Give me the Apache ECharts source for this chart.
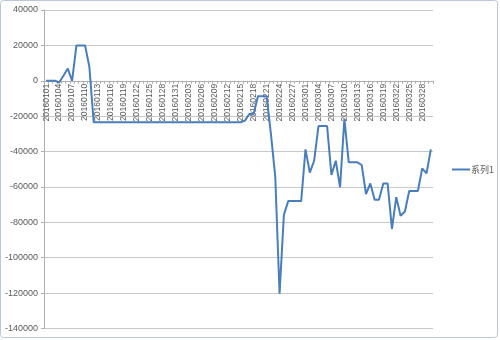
<!DOCTYPE html>
<html>
<head>
<meta charset="utf-8">
<script src="https://cdn.jsdelivr.net/npm/echarts@6/dist/echarts.min.js"></script>
<style>
html,body{margin:0;padding:0;background:#fff;}
#c{width:500px;height:340px;}
</style>
</head>
<body>
<div id="c"></div>
<script>
const categories = [
'20160101','20160102','20160103','20160104','20160105','20160106','20160107','20160108','20160109','20160110',
'20160111','20160112','20160113','20160114','20160115','20160116','20160117','20160118','20160119','20160120',
'20160121','20160122','20160123','20160124','20160125','20160126','20160127','20160128','20160129','20160130','20160131',
'20160201','20160202','20160203','20160204','20160205','20160206','20160207','20160208','20160209','20160210',
'20160211','20160212','20160213','20160214','20160215','20160216','20160217','20160218','20160219','20160220',
'20160221','20160222','20160223','20160224','20160225','20160226','20160227','20160228','20160229',
'20160301','20160302','20160303','20160304','20160305','20160306','20160307','20160308','20160309','20160310',
'20160311','20160312','20160313','20160314','20160315','20160316','20160317','20160318','20160319','20160320',
'20160321','20160322','20160323','20160324','20160325','20160326','20160327','20160328','20160329','20160330'
];
const seriesName = '系列1';
const values = [
0, 0, 0, -1000, 2800, 6900, 0, 20000, 20000, 20000,
7800, -23500, -23500, -23500, -23500, -23500, -23500, -23500, -23500, -23500,
-23500, -23500, -23500, -23500, -23500, -23500, -23500, -23500, -23500, -23500, -23500,
-23500, -23500, -23500, -23500, -23500, -23500, -23500, -23500, -23500, -23500,
-23500, -23500, -23500, -23500, -23500, -22500, -18800, -18800, -8700, -8700,
-8700, -30000, -54000, -120300, -75800, -68000, -68000, -68000, -68000,
-38800, -51900, -45200, -25600, -25600, -25600, -53200, -45200, -60200, -21500,
-46100, -46100, -46100, -47600, -64000, -58000, -67300, -67300, -58000, -58000,
-83700, -65800, -76300, -73900, -62300, -62300, -62300, -49500, -52300, -38800
];
const yMin = -140000, yMax = 40000, yStep = 20000;

const W = 500, H = 340;
const gridTop = 10, gridBottom = 11.5, gridLeft = 44, gridRight = 67;
const plotH = H - gridTop - gridBottom;
// distance of the zero line above the grid bottom
const zeroOffset = plotH * (0 - yMin) / (yMax - yMin);

const chart = echarts.init(document.getElementById('c'), null, {renderer:'canvas'});
chart.setOption({
  animation: false,
  backgroundColor: '#ffffff',
  graphic: [{
    type: 'rect',
    shape: {x: 0.5, y: 0.5, width: 497, height: 337, r: 3},
    style: {fill: 'none', stroke: '#b9c7da', lineWidth: 1},
    silent: true
  }],
  grid: {left: gridLeft, right: gridRight, top: gridTop, bottom: gridBottom, containLabel: false, outerBoundsMode: 'none'},
  legend: {
    data: [seriesName],
    orient: 'vertical',
    left: 447, top: 160,
    icon: 'rect',
    itemWidth: 18, itemHeight: 2,
    itemGap: 4,
    textStyle: {fontSize: 9, color: '#595959', fontFamily: 'Noto Sans CJK SC', padding: [0,0,0,-4]}
  },
  xAxis: {
    type: 'category',
    data: categories,
    boundaryGap: true,
    position: 'bottom',
    offset: -zeroOffset,
    axisLine: {onZero: false, lineStyle: {color: '#b0b0b0', width: 1}},
    axisTick: {show: true, interval: 0, length: 3, lineStyle: {color: '#b0b0b0'}},
    axisLabel: {interval: 2, rotate: 90, fontSize: 8.5, color: '#595959', margin: 3, fontFamily: 'Liberation Sans'},
    splitLine: {show: false}
  },
  yAxis: {
    type: 'value',
    min: yMin, max: yMax, interval: yStep,
    axisLine: {show: true, lineStyle: {color: '#b0b0b0'}},
    axisTick: {show: true, length: 3, lineStyle: {color: '#b0b0b0'}},
    axisLabel: {fontSize: 9, color: '#595959', margin: 6, fontFamily: 'Liberation Sans',
      formatter: function (v) { return String(v); }},
    splitLine: {show: true, lineStyle: {color: '#c8c8c8', width: 1}}
  },
  series: [{
    name: seriesName,
    type: 'line',
    data: values,
    showSymbol: false,
    symbol: 'none',
    z: 5,
    lineStyle: {color: '#4a7ebb', width: 2},
    itemStyle: {color: '#4a7ebb'}
  }]
});
</script>
</body>
</html>
